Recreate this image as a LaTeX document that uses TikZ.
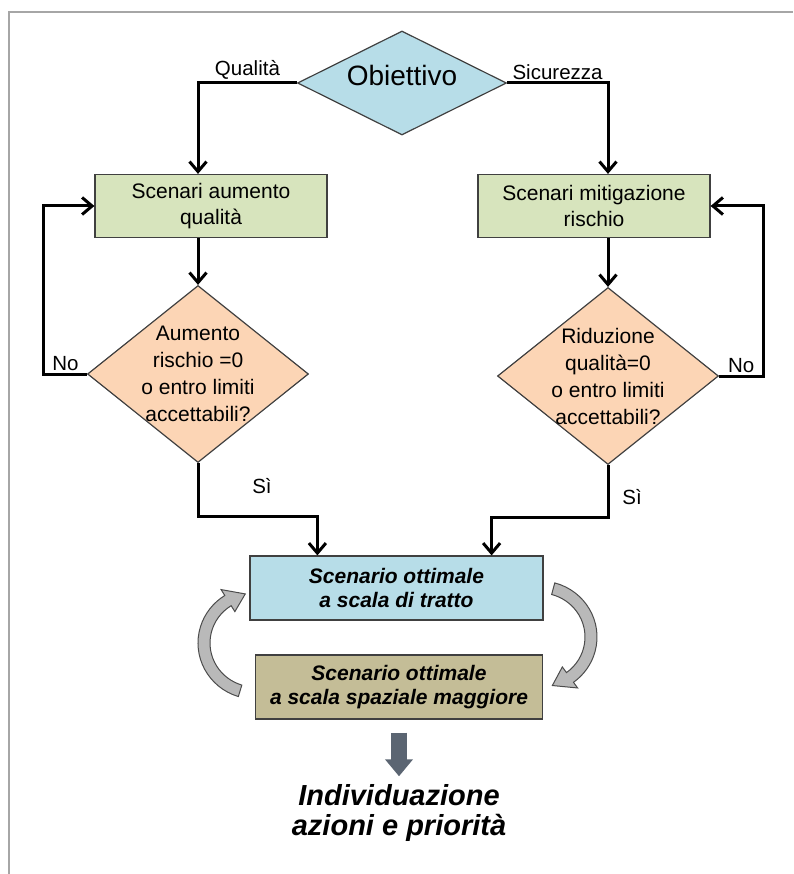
\documentclass[tikz,border=0pt]{standalone}
\usepackage{fontspec}
\setmainfont{Liberation Sans}
\usepackage{xcolor}
\usetikzlibrary{arrows.meta,shapes.geometric,positioning,calc}

\definecolor{aquafill}{HTML}{B7DDE8}
\definecolor{greenfill}{HTML}{D7E4BD}
\definecolor{peachfill}{HTML}{FCD5B5}
\definecolor{tanfill}{HTML}{C4BD97}
\definecolor{edgegray}{HTML}{404040}
\definecolor{slate}{HTML}{5B6572}

\begin{document}
\begin{tikzpicture}[x=1pt,y=-1pt,
  lbl/.style={font=\fontsize{20.5}{24}\selectfont,inner sep=2pt},
  box/.style={draw=edgegray,line width=1.2pt,fill=greenfill,minimum width=232pt,
              minimum height=63pt,align=center,font=\fontsize{21}{26}\selectfont},
  dec/.style={draw=edgegray,line width=1.2pt,fill=peachfill,diamond,aspect=1.25,
              minimum width=221pt,minimum height=177pt,inner sep=-5pt,align=center,
              font=\fontsize{21}{27}\selectfont},
  res/.style={draw=edgegray,line width=1.2pt,minimum height=64pt,align=center,
              font=\fontsize{21}{24}\selectfont\bfseries\itshape},
  conn/.style={line width=3pt,-{Straight Barb[length=10pt,width=17pt]}},
  turn/.style={draw=gray!60!black,line width=1pt,fill=gray!55}]
  \useasboundingbox (0,0) rectangle (793,874);
  \draw[gray!70,line width=1.5pt] (9,874) -- (9,12) -- (793,12);

  \node[draw=edgegray,line width=1.2pt,fill=aquafill,diamond,aspect=2,
        minimum width=209pt,minimum height=104pt,inner sep=0pt,text depth=16pt,
        font=\fontsize{28}{30}\selectfont] (obj) at (402,83) {Obiettivo};
  \node[box] (qbox) at (211,206) {Scenari aumento\\qualità};
  \node[box] (rbox) at (594,206) {Scenari mitigazione\\rischio};
  \node[dec] (qdec) at (198,374) {Aumento\\rischio =0\\o entro limiti\\accettabili?};
  \node[dec] (rdec) at (608,376) {Riduzione\\qualità=0\\o entro limiti\\accettabili?};
  \node[res,fill=aquafill,minimum width=293pt] (opt) at (396.5,588)
    {Scenario ottimale\\a scala di tratto};
  \node[res,fill=tanfill,minimum width=287pt] (wide) at (399,687)
    {Scenario ottimale\\a scala spaziale maggiore};
  \node[align=center,inner sep=0pt,font=\fontsize{29}{30}\selectfont\bfseries\itshape]
    (final) at (399,813) {Individuazione\\azioni e priorità};

  \draw[conn] (obj.west) -- node[lbl,above] (qlab) {Qualità} (obj.west -| qdec.north)
    -- (qdec.north |- qbox.north);
  \draw[conn] (obj.east) -- node[lbl,above] (slab) {Sicurezza} (obj.east -| rdec.north)
    -- (rdec.north |- rbox.north);
  \draw[conn] (qdec.north |- qbox.south) -- (qdec.north);
  \draw[conn] (rdec.north |- rbox.south) -- (rdec.north);
  \draw[conn] (qdec.west) -- node[lbl,above] (qno) {No} ++(-43,0) |- (qbox.west);
  \draw[conn] (rdec.east) -- node[lbl,above] (rno) {No} ++(44,0) |- (rbox.east);
  \draw[conn] (qdec.south) -- ++(0,53) -| ([xshift=68pt]opt.north west);
  \draw[conn] (rdec.south) -- ++(0,52) -| ([xshift=-52pt]opt.north east);
  \node[lbl] (qsi) at ([xshift=64pt,yshift=-23pt]qdec.south) {Sì};
  \node[lbl] (rsi) at ([xshift=24pt,yshift=-32pt]rdec.south) {Sì};

  % curved arrows between the two optimal scenarios
  \coordinate (lc) at (255,643);
  \coordinate (rc) at (540,637);
  \draw[turn] ([shift={(107:57 and 56)}]lc)
      arc[start angle=107,end angle=238,x radius=57,y radius=56]
    -- ([shift={(238:64 and 63)}]lc) -- ([shift={(259:51 and 50)}]lc)
    -- ([shift={(238:38 and 37)}]lc) -- ([shift={(238:45 and 44)}]lc)
      arc[start angle=238,end angle=107,x radius=45,y radius=44] -- cycle;
  \draw[turn] ([shift={(-75:57 and 56)}]rc)
      arc[start angle=-75,end angle=54,x radius=57,y radius=56]
    -- ([shift={(54:64 and 63)}]rc) -- ([shift={(76:51 and 50)}]rc)
    -- ([shift={(54:38 and 37)}]rc) -- ([shift={(54:45 and 44)}]rc)
      arc[start angle=54,end angle=-75,x radius=45,y radius=44] -- cycle;

  \draw[slate,line width=16pt,-{Triangle[length=17pt,width=27pt]}]
    ([yshift=-13pt]wide.south) -- ([yshift=8pt]final.north);
\end{tikzpicture}
\end{document}
